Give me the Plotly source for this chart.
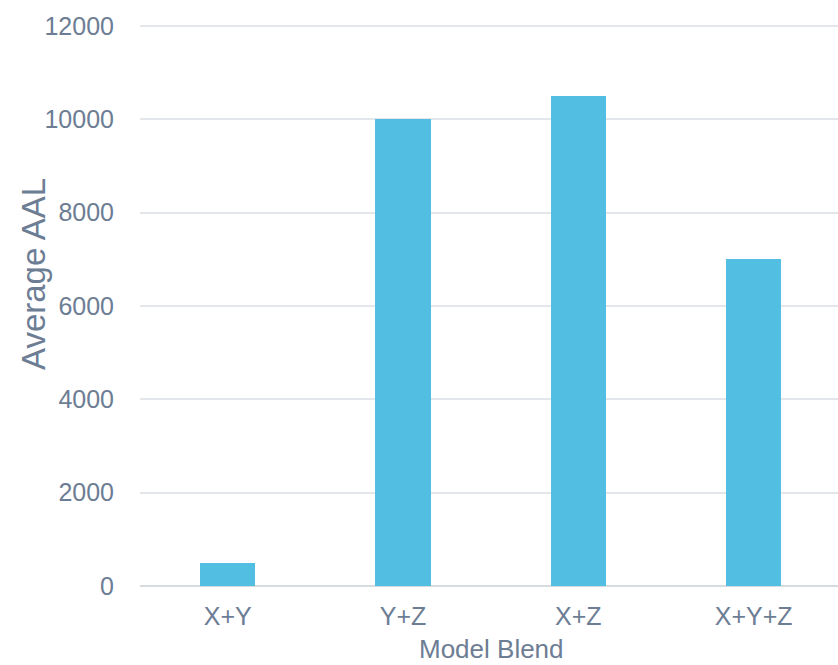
import plotly.graph_objects as go

# Average annual loss by model blend
blends = ["X+Y", "Y+Z", "X+Z", "X+Y+Z"]
avg_aal = [500, 10000, 10500, 7000]
y_ticks = [0, 2000, 4000, 6000, 8000, 10000, 12000]

W, H = 838, 665
PLOT_L, PLOT_R = 140, 838
PLOT_T, PLOT_B = 12, 586

TEXT = "#6c7d94"
BAR = "#52bee1"
FONT = "Liberation Sans, Arial, sans-serif"

fig = go.Figure(
    go.Bar(
        x=list(range(len(blends))),
        y=avg_aal,
        width=0.314,
        marker=dict(color=BAR, line=dict(width=0)),
    )
)

fig.update_layout(
    width=W,
    height=H,
    margin=dict(l=PLOT_L, r=W - PLOT_R, t=PLOT_T, b=H - PLOT_B, pad=0),
    paper_bgcolor="white",
    plot_bgcolor="white",
    showlegend=False,
    font=dict(family=FONT, color=TEXT, size=25),
    bargap=0,
)

fig.update_xaxes(
    tickmode="array",
    tickvals=list(range(len(blends))),
    ticktext=blends,
    range=[-0.5, 3.481],
    showgrid=False,
    showline=False,
    zeroline=False,
    ticks="outside",
    ticklen=8,
    tickcolor="rgba(0,0,0,0)",
    tickfont=dict(size=25, color=TEXT, family=FONT),
)

fig.update_yaxes(
    range=[0, 12300],
    tickmode="array",
    tickvals=y_ticks,
    ticktext=[str(v) for v in y_ticks],
    showgrid=True,
    gridcolor="#e3e6ea",
    gridwidth=1.5,
    zeroline=True,
    zerolinecolor="#d6dbe0",
    zerolinewidth=2,
    showline=False,
    ticks="outside",
    ticklen=20,
    tickcolor="rgba(0,0,0,0)",
    tickfont=dict(size=25, color=TEXT, family=FONT),
)

pw = PLOT_R - PLOT_L
ph = PLOT_B - PLOT_T

# Axis titles placed as annotations in paper coordinates
fig.add_annotation(
    text="Average AAL",
    xref="paper", yref="paper",
    x=(33 - PLOT_L) / pw, y=(PLOT_B - 274) / ph,
    xanchor="center", yanchor="middle",
    textangle=-90,
    showarrow=False,
    font=dict(size=33, color=TEXT, family=FONT),
)
fig.add_annotation(
    text="Model Blend",
    xref="paper", yref="paper",
    x=(491 - PLOT_L) / pw, y=(PLOT_B - 649) / ph,
    xanchor="center", yanchor="middle",
    showarrow=False,
    font=dict(size=26, color=TEXT, family=FONT),
)

fig.write_html("out.html")
